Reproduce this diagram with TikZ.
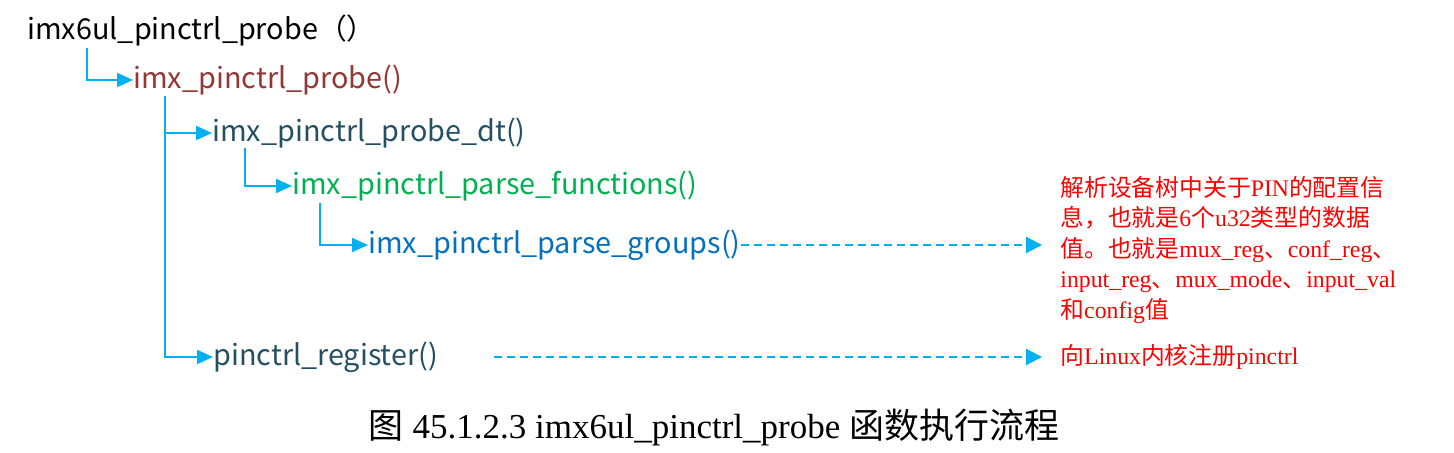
\documentclass[tikz,border=0pt]{standalone}
\usepackage{fontspec}
\usepackage{xcolor}
\usepackage{tikz}
\usetikzlibrary{arrows.meta,positioning,calc}
\setmainfont{Liberation Serif}
\newfontfamily\cjk{Noto Sans CJK SC}
\newfontfamily\funcfont{Noto Sans CJK SC}
\definecolor{linkblue}{RGB}{0,176,240}
\definecolor{probered}{RGB}{148,54,52}
\definecolor{dtteal}{RGB}{36,80,100}
\definecolor{funcgreen}{RGB}{0,176,80}
\definecolor{groupblue}{RGB}{0,112,192}
\definecolor{notered}{RGB}{255,0,0}

\begin{document}
\begin{tikzpicture}[x=0.5pt, y=-0.5pt,
    func/.style={anchor=west, inner sep=0pt, font=\funcfont\fontsize{14.4}{17}\selectfont},
    link/.style={draw=linkblue, line width=1pt, -{Triangle[length=8pt, width=7pt]}},
    dashlink/.style={draw=linkblue, line width=1pt, dash pattern=on 4pt off 2.5pt, -{Triangle[length=8pt, width=8pt]}},
    note/.style={anchor=west, inner sep=0pt, align=left, text=notered, font=\fontsize{11.9}{15.25}\selectfont}]
        \useasboundingbox (0,0) rectangle (1454,453);
        % Call tree of the probe function
        \node[func, text=black] (top) at (27,30) {imx6ul\_pinctrl\_probe{\cjk （）}};
        \node[func, text=probered] (probe) at (133,80) {imx\_pinctrl\_probe()};
        \node[func, text=dtteal] (dt) at (212,133) {imx\_pinctrl\_probe\_dt()};
        \node[func, text=funcgreen] (funcs) at (292,186) {imx\_pinctrl\_parse\_functions()};
        \node[func, text=groupblue] (groups) at (368,245) {imx\_pinctrl\_parse\_groups()};
        \node[func, text=dtteal] (reg) at (213,357) {pinctrl\_register()};

        % Start points of the branches
        \coordinate (b1) at (87,48);
        \coordinate (b2) at (165,96);
        \coordinate (b3) at (245,148);
        \coordinate (b4) at (320,203);

        \draw[link] (b1) |- (probe.west);
        \draw[link] (b2) |- (dt.west);
        \draw[link] (b2) |- (reg.west);
        \draw[link] (b3) |- (funcs.west);
        \draw[link] (b4) |- (groups.west);

        % Notes
        \node[note] (pinnote) at (1060,250) {{\cjk 解析设备树中关于}PIN{\cjk 的配置信}\\
            {\cjk 息，也就是}6{\cjk 个}u32{\cjk 类型的数据}\\
            {\cjk 值。也就是}mux\_reg{\cjk 、}conf\_reg{\cjk 、}\\
            input\_reg{\cjk 、}mux\_mode{\cjk 、}input\_val\\
            {\cjk 和}config{\cjk 值}};
        \node[note] (regnote) at (1060,357) {{\cjk 向}Linux{\cjk 内核注册}pinctrl};

        \draw[dashlink] (groups.east) -- ([xshift=-9pt]groups.east -| pinnote.west);
        \draw[dashlink] ([xshift=28pt]reg.east) -- ([xshift=-9pt]reg.east -| regnote.west);

        % Caption
        \node[inner sep=0pt, font=\fontsize{17.5}{20}\selectfont] (cap) at (714,428) {{\cjk 图} 45.1.2.3 imx6ul\_pinctrl\_probe {\cjk 函数执行流程}};
    \end{tikzpicture}
\end{document}
